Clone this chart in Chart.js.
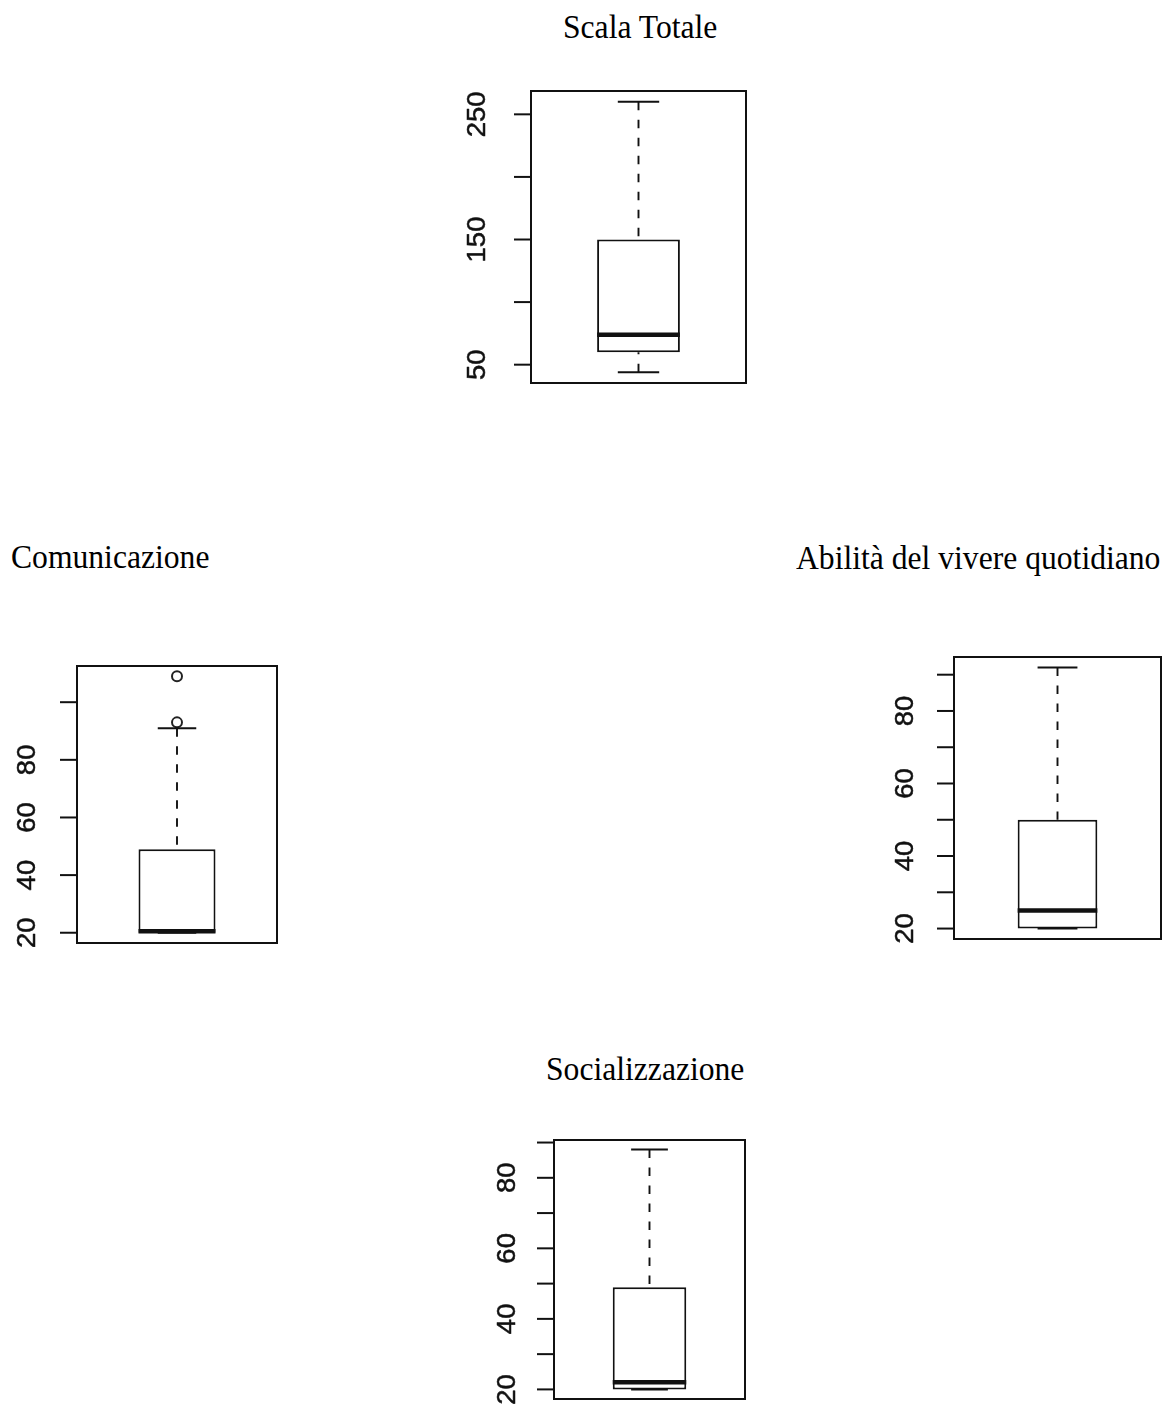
<!DOCTYPE html>
<html lang="it">
<head>
<meta charset="utf-8">
<title>Box plot delle scale</title>
<script src="https://cdn.jsdelivr.net/npm/chart.js@4.4.1/dist/chart.umd.min.js"></script>
<style>
  html, body { margin: 0; padding: 0; background: #fff; }
  body { width: 1166px; height: 1408px; position: relative; overflow: hidden; }
  .panel { position: absolute; }
  .title {
    position: absolute;
    font-family: "Liberation Serif", "Times New Roman", serif;
    font-size: 34px;
    line-height: 34px;
    color: #000;
    white-space: nowrap;
    transform: scaleX(0.93);
    transform-origin: left top;
  }
</style>
</head>
<body>
<script>
// Five-number summaries of each scale (R-style box plots)
const panelNames    = ['Scala Totale', 'Comunicazione', 'Abilità del vivere quotidiano', 'Socializzazione'];
const lowerWhisker  = [44, 20, 20, 20];
const lowerQuartile = [60, 20, 20, 20];
const medians       = [74, 20.5, 25, 22];
const upperQuartile = [150, 49, 50, 49];
const upperWhisker  = [260, 91, 92, 88];
const outliers      = [[], [93, 109], [], []];

// y-axis tick positions and the labels printed next to them
const tickValues = [
  [50, 100, 150, 200, 250],
  [20, 40, 60, 80, 100],
  [20, 30, 40, 50, 60, 70, 80, 90],
  [20, 30, 40, 50, 60, 70, 80, 90]
];
const tickLabels = [
  ['50', '', '150', '', '250'],
  ['20', '40', '60', '80', ''],
  ['20', '', '40', '', '60', '', '80', ''],
  ['20', '', '40', '', '60', '', '80', '']
];

// Page layout: plot frame of each panel, gap to the rotated tick labels, title placement
const layout = [
  { plot: { l: 531, t: 91,   r: 746,  b: 383  }, labelGap: 46, title: { left: 563,   top: 9.5 } },
  { plot: { l: 77,  t: 666,  r: 279,  b: 943  }, labelGap: 42, title: { left: 10.5,  top: 540 } },
  { plot: { l: 954, t: 657,  r: 1161, b: 939  }, labelGap: 41, title: { left: 796,   top: 541 } },
  { plot: { l: 554, t: 1140, r: 745,  b: 1399 }, labelGap: 39, title: { left: 545.5, top: 1051.5 } }
];

const INK = '#111';
const TICK_LEN = 17;

// Whiskers, caps, median, frame and left axis of one box plot
const boxplotParts = {
  id: 'boxplotParts',
  afterDatasetsDraw(chart, args, opts) {
    const i = opts.index;
    const { ctx, chartArea: a, scales: { y } } = chart;
    const bar = chart.getDatasetMeta(0).data[0];
    const cx = bar.x;
    const half = bar.width / 2;
    const capHalf = half / 2;

    const seg = (x1, y1, x2, y2) => {
      ctx.beginPath(); ctx.moveTo(x1, y1); ctx.lineTo(x2, y2); ctx.stroke();
    };

    ctx.save();
    ctx.strokeStyle = INK;
    ctx.lineCap = 'butt';

    // dashed whiskers, drawn from the whisker end toward the box
    const yHi = y.getPixelForValue(upperWhisker[i]);
    const yLo = y.getPixelForValue(lowerWhisker[i]);
    ctx.lineWidth = 1.9;
    ctx.setLineDash([8.5, 9.5]);
    seg(cx, yHi, cx, y.getPixelForValue(upperQuartile[i]));
    seg(cx, yLo, cx, y.getPixelForValue(lowerQuartile[i]));
    ctx.setLineDash([]);

    // whisker caps
    ctx.lineWidth = 2;
    seg(cx - capHalf, yHi, cx + capHalf, yHi);
    seg(cx - capHalf, yLo, cx + capHalf, yLo);

    // median
    const yMed = y.getPixelForValue(medians[i]);
    ctx.lineWidth = 4.5;
    seg(cx - half, yMed, cx + half, yMed);

    // plot frame
    ctx.lineWidth = 2;
    ctx.strokeRect(a.left, a.top, a.right - a.left, a.bottom - a.top);

    // left axis: tick marks and rotated labels
    const ticks = tickValues[i];
    seg(a.left, y.getPixelForValue(ticks[0]), a.left, y.getPixelForValue(ticks[ticks.length - 1]));
    ctx.fillStyle = '#111';
    ctx.font = '25px "Liberation Sans", Arial, sans-serif';
    ctx.textAlign = 'center';
    ctx.textBaseline = 'alphabetic';
    ctx.lineJoin = 'round';
    ticks.forEach((v, k) => {
      const py = y.getPixelForValue(v);
      ctx.lineWidth = 2;
      seg(a.left - TICK_LEN, py, a.left, py);
      const label = tickLabels[i][k];
      if (label) {
        ctx.save();
        ctx.translate(a.left - opts.labelGap, py);
        ctx.rotate(-Math.PI / 2);
        ctx.scale(1.1, 1);
        ctx.fillText(label, 0, 0);
        ctx.lineWidth = 0.5;
        ctx.strokeText(label, 0, 0);
        ctx.restore();
      }
    });
    ctx.restore();
  }
};

panelNames.forEach((name, i) => {
  const L = layout[i];
  const padL = 80, padT = 12, padR = 5, padB = 8;
  const width = (L.plot.r - L.plot.l) + padL + padR;
  const height = (L.plot.b - L.plot.t) + padT + padB;

  const holder = document.createElement('div');
  holder.className = 'panel';
  holder.style.left = (L.plot.l - padL) + 'px';
  holder.style.top = (L.plot.t - padT) + 'px';
  holder.style.width = width + 'px';
  holder.style.height = height + 'px';
  const canvas = document.createElement('canvas');
  canvas.width = width;
  canvas.height = height;
  holder.appendChild(canvas);
  document.body.appendChild(holder);

  const title = document.createElement('div');
  title.className = 'title';
  title.textContent = name;
  title.style.left = L.title.left + 'px';
  title.style.top = L.title.top + 'px';
  document.body.appendChild(title);

  // R's default axis range: data extent widened by 4% on each side
  const lo = Math.min(lowerWhisker[i], ...outliers[i]);
  const hi = Math.max(upperWhisker[i], ...outliers[i]);
  const ext = (hi - lo) * 0.04;

  new Chart(canvas, {
    type: 'bar',
    data: {
      labels: [name],
      datasets: [
        {
          type: 'bar',
          data: [[lowerQuartile[i], upperQuartile[i]]],
          backgroundColor: '#fff',
          borderColor: INK,
          borderWidth: 2,
          borderSkipped: false,
          barPercentage: 0.385,
          categoryPercentage: 1
        },
        {
          type: 'line',
          showLine: false,
          data: outliers[i].map(v => ({ x: name, y: v })),
          pointStyle: 'circle',
          pointRadius: 5,
          pointBorderWidth: 2,
          pointBorderColor: '#222',
          pointBackgroundColor: 'rgba(0,0,0,0)'
        }
      ]
    },
    options: {
      responsive: false,
      devicePixelRatio: 1,
      animation: false,
      events: [],
      layout: { padding: { left: padL, top: padT, right: padR, bottom: padB } },
      scales: {
        x: { display: false },
        y: { display: false, min: lo - ext, max: hi + ext }
      },
      plugins: {
        legend: { display: false },
        tooltip: { enabled: false },
        title: { display: false },
        boxplotParts: { index: i, labelGap: L.labelGap }
      }
    },
    plugins: [boxplotParts]
  });
});
</script>
</body>
</html>
